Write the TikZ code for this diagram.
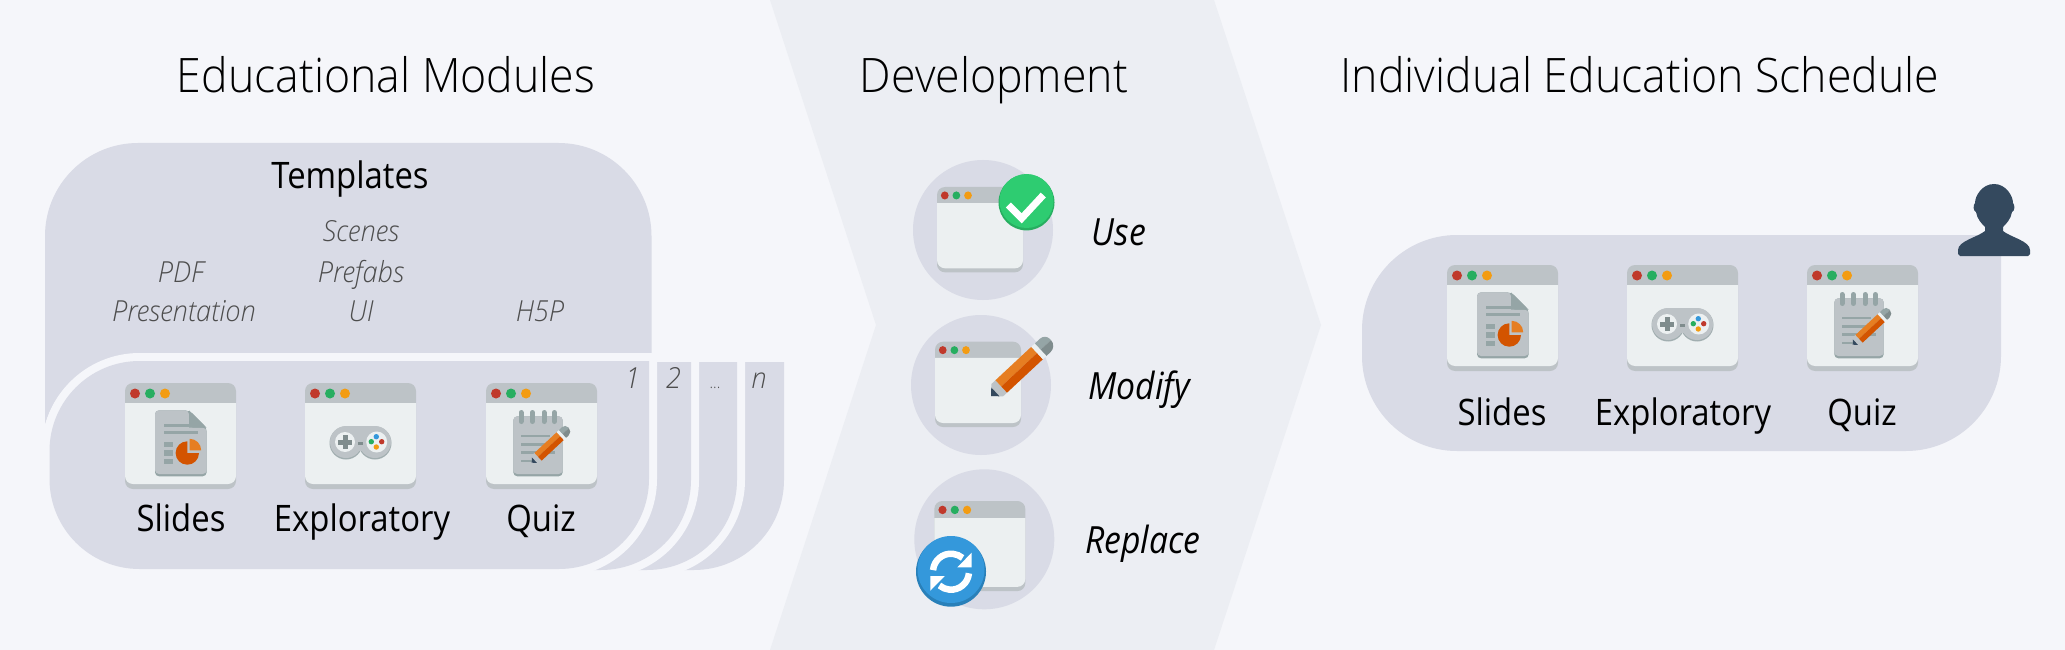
\documentclass[tikz,border=0pt]{standalone}
\usepackage{fontspec}
\setmainfont[ItalicFont={Open Sans Light Italic},FakeStretch=.94]{Open Sans Light}
\newfontfamily\labelfont[FakeStretch=.9]{Open Sans}
\definecolor{bgcol}{HTML}{F5F6FA}
\definecolor{bandcol}{HTML}{ECEEF3}
\definecolor{cardcol}{HTML}{D9DBE6}
\definecolor{greytxt}{HTML}{4D4D4D}
\definecolor{winbody}{HTML}{ECF0F1}
\definecolor{winbar}{HTML}{BDC3C7}
\definecolor{midgrey}{HTML}{95A5A6}
\definecolor{dkgrey}{HTML}{7F8C8D}
\definecolor{dotred}{HTML}{C0392B}
\definecolor{dotgreen}{HTML}{27AE60}
\definecolor{dotorange}{HTML}{F39C12}
\definecolor{lgreen}{HTML}{2ECC71}
\definecolor{pen}{HTML}{E67E22}
\definecolor{pendk}{HTML}{D35400}
\definecolor{navy}{HTML}{34495E}
\definecolor{lblue}{HTML}{3498DB}
\definecolor{dblue}{HTML}{2980B9}
\tikzset{
	title/.style={inner sep=0pt, anchor=base, font=\fontsize{47.5}{50}\selectfont},
	modlabel/.style={inner sep=0pt, anchor=base, font=\labelfont\fontsize{36.5}{40}\selectfont},
	tech/.style={inner sep=0pt, anchor=base, text=greytxt, font=\fontsize{29}{32}\itshape\selectfont},
	action/.style={inner sep=0pt, anchor=base, font=\labelfont\fontsize{37.5}{40}\itshape\selectfont},
	appwin/.pic={
		\fill[winbar, rounded corners=8pt] (0,0) rectangle (111,106);
		\fill[winbody] (0,20) [rounded corners=8pt] -- (0,101) -- (111,101) [sharp corners] -- (111,20) -- cycle;
		\fill[dotred] (10,10.5) circle[radius=5];
		\fill[dotgreen] (25,10.5) circle[radius=5];
		\fill[dotorange] (40,10.5) circle[radius=5];
	},
	penicon/.pic={
		% tip at the origin, runs along +x
		\fill[winbar] (0,0) -- (8.5,-8.5) -- (14,-8.5) -- (14,8.5) -- (8.5,8.5) -- cycle;
		\fill[navy] (0,0) -- (6,-6) -- (6,6) -- cycle;
		\fill[pen] (14,-8.5) rectangle (63,0);
		\fill[pendk] (14,0) rectangle (63,8.5);
		\fill[winbody] (63,-8.5) rectangle (68,8.5);
		\fill[midgrey] (68,-8.5) -- (75,-8.5) arc[start angle=-90, end angle=0, radius=7] -- (82,0) -- (68,0) -- cycle;
		\fill[dkgrey] (68,0) -- (82,0) arc[start angle=0, end angle=90, radius=8.5] -- (68,8.5) -- cycle;
	},
	slideicon/.pic={
		\fill[midgrey, rounded corners=4pt] (30,27.3) -- (30,93.3) -- (81.7,93.3) -- (81.7,44.7) -- (64,27.3) -- cycle;
		\fill[winbar, rounded corners=4pt] (30,27.3) -- (30,91) -- (81.7,91) -- (81.7,44.7) -- (64,44.7) -- (64,27.3) -- cycle;
		\fill[midgrey] (64,27.3) -- (81.7,44.7) -- (64,44.7) -- cycle;
		\fill[midgrey] (39,41) rectangle (64,44);
		\fill[midgrey] (39,47.5) rectangle (73,50.5);
		\foreach \y in {58.7,67.3,75.7} \fill[midgrey] (39,\y) rectangle ++(8.5,5.7);
		\fill[pendk] (62.3,70) -- (62.3,58.3) arc[start angle=-90, end angle=-360, radius=11.7] -- cycle;
		\fill[pen] (64.7,67.3) -- (64.7,55.8) arc[start angle=-90, end angle=0, radius=11.5] -- cycle;
	},
	gameicon/.pic={
		\fill[midgrey!70!winbar] (41,60) circle[radius=16.5];
		\fill[midgrey!70!winbar] (70,60) circle[radius=16.5];
		\fill[winbar] (41,59) circle[radius=16];
		\fill[winbar] (70,59) circle[radius=16];
		\fill[winbar] (41,43.3) rectangle (70,68);
		\fill[winbody] (40,59) circle[radius=10];
		\fill[winbody] (71.7,59) circle[radius=10.5];
		\fill[dkgrey] (37.5,52) rectangle (42.5,66);
		\fill[dkgrey] (33,56.5) rectangle (47,61.5);
		\fill[dkgrey] (53,59) rectangle (58,61.5);
		\fill[lblue] (71.3,53.7) circle[radius=2.7];
		\fill[dotred] (76.7,58.7) circle[radius=2.7];
		\fill[dotgreen] (66.3,58.7) circle[radius=2.7];
		\fill[dotorange] (71.3,64) circle[radius=2.7];
	},
	padicon/.pic={
		\fill[midgrey, rounded corners=4pt] (27.3,33.3) rectangle (76.7,93.3);
		\fill[winbar, rounded corners=4pt] (27.3,33.3) rectangle (76.7,91);
		\foreach \x in {35,46.3,58,68.3} \draw[midgrey, line width=5pt, line cap=round] (\x,29.5) -- (\x,38.5);
		\foreach \y/\r in {53/64,61.3/66,69.7/69,78/50} \fill[midgrey] (35,\y-1.3) rectangle (\r,\y+1.3);
		\pic[rotate=43, scale=.62] at (45.7,79.7) {penicon};
	},
}
\newcommand{\cardpath}[3]{(49.5,#2+90) arc[start angle=180, end angle=270, radius=90] -- (#1,#2) -- (#1,#3-90) arc[start angle=0, end angle=90, radius=90] -- (139.5,#3) arc[start angle=90, end angle=180, radius=90] -- cycle}

\begin{document}
\begin{tikzpicture}[x=1pt, y=-1pt]
\useasboundingbox (0,0) rectangle (2065,650);
\fill[bgcol] (0,0) rectangle (2065,650);
\fill[bandcol] (770,0) -- (1214,0) -- (1321,325) -- (1214,650) -- (770,650) -- (876,325) -- cycle;

\node[title] (educational) at (386,92.3) {Educational Modules};
\node[title] (development) at (994,92.3) {Development};
\node[title] (schedule) at (1640,92.3) {Individual Education Schedule};

% templates and the stack of cards
\fill[cardcol] (45,500) -- (45,236) arc[start angle=180, end angle=270, radius=93] -- (558.5,143) arc[start angle=270, end angle=360, radius=93] -- (651.5,500) -- cycle;
\foreach \r/\t/\b in {784/362/570,737/362/570,691/362/570,649/361/569} {
	\draw[bgcol, line width=16pt] \cardpath{\r}{\t}{\b};
	\fill[cardcol] \cardpath{\r}{\t}{\b};
}
\node[modlabel] (templates) at (350,189) {Templates};
\node[tech] (scenes) at (361,241.7) {Scenes};
\node[tech] (pdf) at (181,282.7) {PDF};
\node[tech] (prefabs) at (361,282.7) {Prefabs};
\node[tech] (presentation) at (184,321) {Presentation};
\node[tech] (ui) at (361,321) {UI};
\node[tech] (hfivep) at (540,321) {H5P};
\node[tech] (one) at (632.6,388.7) {1};
\node[tech] (two) at (673.5,388.7) {2};
\node[tech, font=\fontsize{16}{18}\selectfont] (dots) at (715,388.7) {...};
\node[tech] (enn) at (759,388.7) {n};

\pic at (125,383) {appwin}; \pic at (125,383) {slideicon};
\pic at (305,383) {appwin}; \pic at (305,383) {gameicon};
\pic at (486,383) {appwin}; \pic at (486,383) {padicon};
\node[modlabel] (slidesa) at (181,531.7) {Slides};
\node[modlabel] (explorea) at (362,531.7) {Exploratory};
\node[modlabel] (quiza) at (541,531.7) {Quiz};

% the three ways of development
\fill[cardcol] (983,230) circle[radius=70];
\fill[cardcol] (981,385) circle[radius=70];
\fill[cardcol] (984.3,539.3) circle[radius=70];
\pic[xscale=.775, yscale=.805] at (937,187) {appwin};
\pic[xscale=.775, yscale=.805] at (935,341.7) {appwin};
\pic[xscale=.82, yscale=.85] at (934.3,501) {appwin};

\fill[dotgreen] (1026.5,202.4) circle[radius=28];
\fill[lgreen] (1026.5,201) circle[radius=27];
\draw[white, line width=7pt] (1008.3,205) -- (1021.7,218.3) -- (1043.3,195);

\pic[rotate=43] at (991,396) {penicon};

\fill[dblue] (951,571.7) circle[radius=35];
\fill[lblue] (951,569.5) circle[radius=33.5];
\foreach \a in {0,180} {
	\begin{scope}[shift={(951,571.7)}, rotate=\a]
		\draw[white, line width=6.5pt] (185:18) arc[start angle=185, end angle=310, radius=18];
		\fill[white] (20.7,-19) -- (20.7,-4.4) -- (6.3,-4.4) -- cycle;
	\end{scope}
}

\node[action] (use) at (1119,245) {Use};
\node[action] (modify) at (1139,399) {Modify};
\node[action] (replace) at (1143,553) {Replace};

% schedule of one learner
\fill[cardcol] (1362,330) arc[start angle=180, end angle=270, radius=95] -- (2001,235) -- (2001,356) arc[start angle=0, end angle=90, radius=95] -- (1457,451) arc[start angle=90, end angle=180, radius=95] -- cycle;
\fill[navy] (1994,184) .. controls (2006,184) and (2013,196) .. (2013,203) .. controls (2015,205) and (2015,211) .. (2012,212) .. controls (2011,219) and (2006,224) .. (2003,227) -- (2003,231) .. controls (2010,237) and (2030,241) .. (2030,250) -- (2030,254) -- (2028,256) -- (1960,256) -- (1958,254) -- (1958,250) .. controls (1958,241) and (1978,237) .. (1985,231) -- (1985,227) .. controls (1982,224) and (1977,219) .. (1976,212) .. controls (1973,211) and (1973,205) .. (1975,203) .. controls (1975,196) and (1982,184) .. (1994,184) -- cycle;

\pic at (1447,265) {appwin}; \pic at (1447,265) {slideicon};
\pic at (1627,265) {appwin}; \pic at (1627,265) {gameicon};
\pic at (1807,265) {appwin}; \pic at (1807,265) {padicon};
\node[modlabel] (slidesb) at (1502,425) {Slides};
\node[modlabel] (exploreb) at (1683,425) {Exploratory};
\node[modlabel] (quizb) at (1862,425) {Quiz};
\end{tikzpicture}
\end{document}
